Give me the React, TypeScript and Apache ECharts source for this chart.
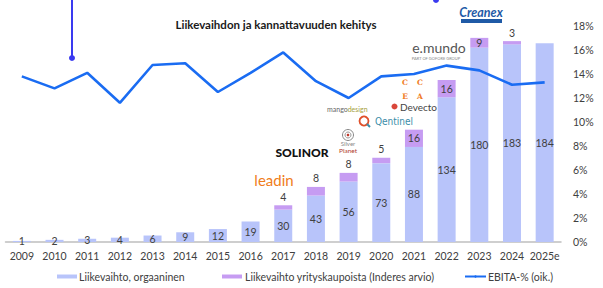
import React, { useEffect, useRef } from "react";
import * as echarts from "echarts";

const years = ["2009","2010","2011","2012","2013","2014","2015","2016","2017","2018","2019","2020","2021","2022","2023","2024","2025e"];
const organic = [1,2,3,4,6,9,12,19,30,43,56,73,88,134,180,183,184];
const acquisitions: (number | null)[] = [null,null,null,null,null,null,null,null,4,8,8,5,16,16,9,3,null];
const acqLabelInside = [false,false,false,false,false,false,false,false,false,false,false,false,true,true,true,false,false];
const ebita = [13.8,12.8,14.1,11.6,14.75,14.9,12.5,14.1,15.8,13.4,12.0,13.8,14.0,14.7,14.3,13.1,13.3];
const pctTicks = [0,2,4,6,8,10,12,14,16,18];

const FONT = "Lato";

export default function App() {
  const ref = useRef<HTMLDivElement>(null);
  useEffect(() => {
    const chart = echarts.init(ref.current!, null, { renderer: "svg" });
    const lbl = { fontFamily: FONT, fontSize: 10.5, color: "#404040" };
    const legTxt = { fontFamily: FONT, fontSize: 10.5, color: "#404040" };
    chart.setOption({
      animation: false,
      grid: { left: 5.5, right: 42, top: 26, bottom: 46, containLabel: false },
      legend: [
        { data: ["Liikevaihto, orgaaninen"], left: 52, top: 266, itemWidth: 20, itemHeight: 4, textStyle: { ...legTxt, padding: [0, 0, 0, -3] }, icon: "rect" },
        { data: ["Liikevaihto yrityskaupoista (Inderes arvio)"], left: 217, top: 266, itemWidth: 20, itemHeight: 4, textStyle: { ...legTxt, padding: [0, 0, 0, -2] }, icon: "rect" },
        { data: ["EBITA-% (oik.)"], left: 459, top: 266, itemWidth: 21, itemHeight: 3, textStyle: { ...legTxt, padding: [0, 0, 0, -3] } },
      ],
      xAxis: {
        type: "category",
        data: years,
        axisTick: { show: false },
        axisLine: { lineStyle: { color: "#bfbfbf", width: 1.5 } },
        axisLabel: { ...lbl, margin: 8, interval: 0 },
      },
      yAxis: [
        { type: "value", min: 0, max: 200, show: false, splitLine: { show: false } },
        {
          type: "value", min: 0, max: 18, interval: 2, position: "right",
          axisLine: { show: false }, axisTick: { show: false }, splitLine: { show: false },
          axisLabel: { ...lbl, margin: 12, formatter: (v: number) => (pctTicks.includes(v) ? v + "%" : "") },
        },
      ],
      series: [
        {
          name: "Liikevaihto, orgaaninen", type: "bar", stack: "rev", barWidth: 18,
          data: organic, itemStyle: { color: "#b8c4fa" },
          label: { show: true, position: "inside", ...lbl },
        },
        {
          name: "Liikevaihto yrityskaupoista (Inderes arvio)", type: "bar", stack: "rev", barWidth: 18,
          data: acquisitions.map((v, i) => ({
            value: v,
            label: { show: v != null, position: acqLabelInside[i] ? "inside" : "top", distance: 3, ...lbl },
          })),
          itemStyle: { color: "#c69cf2" },
        },
        {
          name: "EBITA-% (oik.)", type: "line", yAxisIndex: 1, data: ebita,
          symbol: "none", lineStyle: { color: "#1a6cf2", width: 2.6 }, itemStyle: { color: "#1a6cf2" },
        },
      ],
      graphic: [
        { type: "text", x: 276, y: 24, style: { text: "Liikevaihdon ja kannattavuuden kehitys", fontFamily: FONT, fontWeight: "bold", fontSize: 11.5, fill: "#1a1a1a", textAlign: "center", textVerticalAlign: "middle" } },
        { type: "line", shape: { x1: 72, y1: 0, x2: 72, y2: 58 }, style: { stroke: "#3a3af0", lineWidth: 2 } },
        { type: "circle", shape: { cx: 72, cy: 58, r: 3 }, style: { fill: "#3a3af0" } },
        { type: "circle", shape: { cx: 436, cy: 0, r: 3 }, style: { fill: "#3a3af0" } },
        // Creanex
        { type: "text", x: 481, y: 12.5, style: { text: "Creanex", fontFamily: FONT, fontStyle: "italic", fontWeight: "bold", fontSize: 12.5, fill: "#1f5aa6", textAlign: "center", textVerticalAlign: "middle" } },
        { type: "rect", shape: { x: 461, y: 19, width: 41, height: 4 }, style: { fill: "#1f5aa6" } },
        // e.mundo
        { type: "text", x: 439, y: 47.5, style: { text: "e.mundo", fontFamily: FONT, fontSize: 14, fill: "#555555", textAlign: "center", textVerticalAlign: "middle" } },
        { type: "text", x: 436, y: 58.5, style: { text: "PART OF GOFORE GROUP", fontFamily: FONT, fontSize: 4, fill: "#888888", textAlign: "center", textVerticalAlign: "middle" } },
        // CCEA
        { type: "text", x: 405, y: 82, style: { text: "C", fontFamily: "DejaVu Serif", fontWeight: "bold", fontSize: 7.5, fill: "#f07a1e", textAlign: "center", textVerticalAlign: "middle" } },
        { type: "text", x: 420, y: 82, style: { text: "C", fontFamily: "DejaVu Serif", fontWeight: "bold", fontSize: 7.5, fill: "#f07a1e", textAlign: "center", textVerticalAlign: "middle" } },
        { type: "text", x: 405, y: 96, style: { text: "E", fontFamily: "DejaVu Serif", fontWeight: "bold", fontSize: 7.5, fill: "#f07a1e", textAlign: "center", textVerticalAlign: "middle" } },
        { type: "text", x: 420, y: 96, style: { text: "A", fontFamily: "DejaVu Serif", fontWeight: "bold", fontSize: 7.5, fill: "#f07a1e", textAlign: "center", textVerticalAlign: "middle" } },
        // Devecto
        { type: "circle", shape: { cx: 394.5, cy: 106.5, r: 3 }, style: { fill: "#d9473a" } },
        { type: "text", x: 400, y: 106.5, style: { text: "Devecto", fontFamily: FONT, fontSize: 10, fill: "#444444", textVerticalAlign: "middle" } },
        // mangodesign
        { type: "text", x: 327, y: 109, style: { text: "{a|mango}{b|design}", fontFamily: FONT, textVerticalAlign: "middle", rich: { a: { fontSize: 7, fill: "#666666", fontFamily: FONT }, b: { fontSize: 7, fill: "#a4a03a", fontFamily: FONT } } } },
        // Qentinel
        { type: "circle", shape: { cx: 364, cy: 121, r: 4.5 }, style: { fill: "none", stroke: "#e0502a", lineWidth: 1.8 } },
        { type: "line", shape: { x1: 367, y1: 124, x2: 370, y2: 127 }, style: { stroke: "#3a8ca8", lineWidth: 2 } },
        { type: "text", x: 375, y: 121, style: { text: "Qentinel", fontFamily: "DejaVu Sans Condensed", fontSize: 10, fill: "#3a8ca8", textVerticalAlign: "middle" } },
        // Silver Planet
        { type: "circle", shape: { cx: 348, cy: 135, r: 5.5 }, style: { fill: "none", stroke: "#888888", lineWidth: 1 } },
        { type: "circle", shape: { cx: 348, cy: 135, r: 3 }, style: { fill: "none", stroke: "#999999", lineWidth: 1 } },
        { type: "circle", shape: { cx: 348, cy: 135, r: 1.3 }, style: { fill: "#c0392b" } },
        { type: "text", x: 348, y: 143.5, style: { text: "Silver", fontFamily: FONT, fontSize: 6, fill: "#888888", textAlign: "center", textVerticalAlign: "middle" } },
        { type: "text", x: 348, y: 150.5, style: { text: "Planet", fontFamily: FONT, fontSize: 6.5, fill: "#b03a2e", textAlign: "center", textVerticalAlign: "middle" } },
        // SOLINOR
        { type: "text", x: 302, y: 152, style: { text: "SOLINOR", fontFamily: FONT, fontWeight: "900", fontSize: 12, fill: "#111111", textAlign: "center", textVerticalAlign: "middle" } },
        // leadin
        { type: "text", x: 274, y: 180, style: { text: "leadin", fontFamily: FONT, fontSize: 15, fill: "#f07d1a", textAlign: "center", textVerticalAlign: "middle" } },
      ],
    });
    return () => chart.dispose();
  }, []);
  return <div ref={ref} style={{ position: "fixed", left: 0, top: 0, width: 603, height: 288, background: "#fff" }} />;
}
